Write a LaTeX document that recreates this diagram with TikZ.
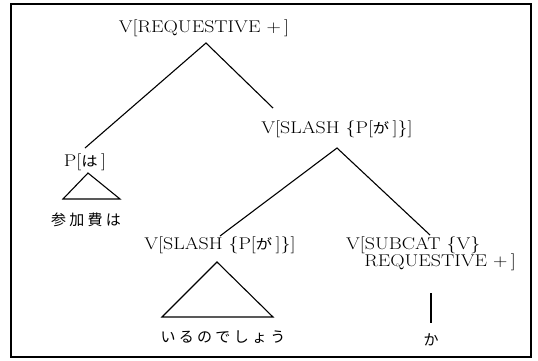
\documentclass[tikz,border=0pt]{standalone}
\usepackage{fontspec}
\usepackage{graphicx}
\newfontfamily\jpfont{Noto Sans CJK JP}
\newfontfamily\jpwide{Noto Sans CJK JP}[LetterSpace=22]
% wide roman lettering for the category labels
\newcommand{\stx}[1]{\scalebox{1.17}[1]{#1}}
\tikzset{
  lbl/.style={inner sep=0pt, font=\fontsize{17}{19}\selectfont},
  jlbl/.style={inner sep=0pt, font=\fontsize{15}{17}\selectfont\jpwide},
  branch/.style={line width=1.1pt},
  frame/.style={line width=1.4pt}
}
\begin{document}
\begin{tikzpicture}[x=1pt,y=-1pt]
\useasboundingbox (0,0) rectangle (538,360);
\draw[frame] (11,4) rectangle (531,357);

% category labels
\node[lbl] (root) at (204,28) {\stx{V[REQUESTIVE +\,]}};
\node[lbl] (pwa) at (85,162) {\stx{P[{\jpfont\fontsize{14}{16}\selectfont は}\,]}};
\node[lbl] (slashU) at (337,129) {\stx{V[SLASH \{P[{\jpfont\fontsize{14}{16}\selectfont が}\,]\}]}};
\node[lbl] (slashL) at (220,245) {\stx{V[SLASH \{P[{\jpfont\fontsize{14}{16}\selectfont が}\,]\}]}};
\node[lbl,anchor=west] (sub1) at (346,245) {\stx{V[SUBCAT \{V\}}};
\node[lbl,anchor=east] (sub2) at (516,262) {\stx{REQUESTIVE +\,]}};

% words
\node[jlbl] (w1) at (86,220) {参加費は};
\node[jlbl] (w2) at (223,337) {いるのでしょう};
\node[jlbl] (w3) at (431,340) {か};

% branch end points
\coordinate (rootA) at (206,43);
\coordinate (pwaT) at (85,148);
\coordinate (slashUT) at (273,108);
\coordinate (slashUA) at (337,148);
\coordinate (slashLT) at (220,236);
\coordinate (subT) at (430,235);
\coordinate (pwaA) at (88,173);
\coordinate (pwaBL) at (63,199);
\coordinate (pwaBR) at (120,199);
\coordinate (slashLA) at (217,262);
\coordinate (slashLBL) at (162,317);
\coordinate (slashLBR) at (273,317);
\coordinate (subB) at (431,293);
\coordinate (kaT) at (431,323);

% tree
\draw[branch] (pwaT) -- (rootA) -- (slashUT);
\draw[branch] (slashLT) -- (slashUA) -- (subT);
\draw[branch] (pwaA) -- (pwaBL) -- (pwaBR) -- cycle;
\draw[branch] (slashLA) -- (slashLBL) -- (slashLBR) -- cycle;
\draw[branch] (subB) -- (kaT);
\end{tikzpicture}
\end{document}
